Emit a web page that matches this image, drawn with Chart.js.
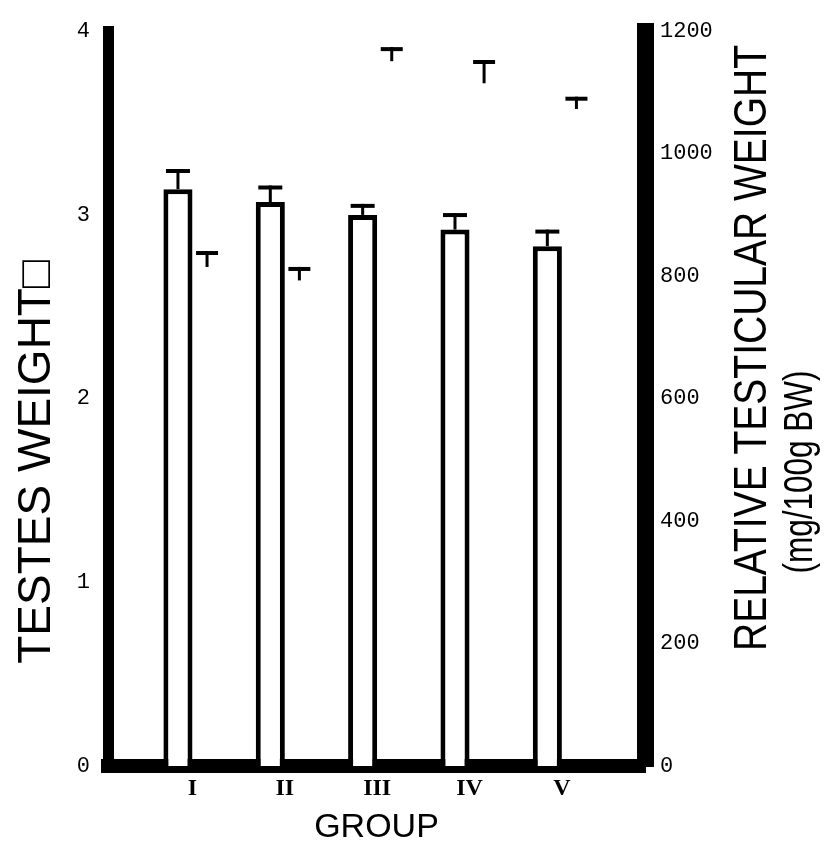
<!DOCTYPE html>
<html>
<head>
<meta charset="utf-8">
<title>Testes weight by group</title>
<script src="https://cdn.jsdelivr.net/npm/chart.js@4"></script>
<style>
    body { margin: 0; background: #fff; }
    #wrap { width: 835px; height: 853px; position: relative; }
</style>
</head>
<body>
<div id="wrap"><canvas id="testesChart"></canvas></div>
<script>
// Group labels and measured values
const groups = ['I', 'II', 'III', 'IV', 'V'];
const testesWeight = [3.14, 3.07, 3.00, 2.92, 2.83];   // g
const testesSE = [0.11, 0.09, 0.06, 0.09, 0.09];
const relativeWeight = [815, 793, 1151, 1115, 1073];   // mg/100g BW
const relativeSE = [26, 22, 23, 38, 20];

const leftTicks = [0, 1, 2, 3, 4];
const rightTicks = [0, 200, 400, 600, 800, 1000, 1200];

// T-shaped error bar: stem from base up to top, cap across the top
function drawT(ctx, x, base, top, capWidth) {
    ctx.lineWidth = 3;
    ctx.beginPath();
    ctx.moveTo(x, base);
    ctx.lineTo(x, top);
    ctx.stroke();
    ctx.lineWidth = 4;
    ctx.beginPath();
    ctx.moveTo(x - capWidth / 2, top + 2);
    ctx.lineTo(x + capWidth / 2, top + 2);
    ctx.stroke();
}

const errorBars = {
    id: 'errorBars',
    afterDatasetsDraw(chart) {
        const ctx = chart.ctx;
        const y = chart.scales.y;
        const y2 = chart.scales.y2;
        ctx.save();
        ctx.strokeStyle = '#000';
        chart.getDatasetMeta(0).data.forEach((bar, i) => {
            const top = y.getPixelForValue(testesWeight[i] + testesSE[i]);
            drawT(ctx, bar.x, bar.y, top, 24);
        });
        chart.getDatasetMeta(1).data.forEach((bar, i) => {
            const mean = y2.getPixelForValue(relativeWeight[i]);
            const top = y2.getPixelForValue(relativeWeight[i] + relativeSE[i]);
            drawT(ctx, bar.x, mean, top, 22);
        });
        ctx.restore();
    }
};

// Rotated axis titles (read bottom to top), squeezed to a set length
const axisTitles = {
    id: 'axisTitles',
    afterDraw(chart) {
        const ctx = chart.ctx;
        const rotated = (text, x, y, font, length) => {
            ctx.save();
            ctx.translate(x, y);
            ctx.rotate(-Math.PI / 2);
            ctx.font = font;
            if (length) ctx.scale(length / ctx.measureText(text).width, 1);
            ctx.fillText(text, 0, 0);
            ctx.restore();
        };
        ctx.save();
        ctx.fillStyle = '#000';
        ctx.textAlign = 'center';
        ctx.textBaseline = 'middle';
        rotated('TESTES WEIGHT\u25A1', 37, 462, '46px "Liberation Sans", "DejaVu Sans"');
        rotated('RELATIVE TESTICULAR WEIGHT', 753, 348, '46px "Liberation Sans", sans-serif', 606);
        rotated('(mg/100g BW)', 801, 472, '40px "Liberation Sans", sans-serif', 203);
        ctx.restore();
    }
};

const tickFont = { family: '"Liberation Mono", monospace', size: 22 };

new Chart(document.getElementById('testesChart'), {
    type: 'bar',
    data: {
        datasets: [{
            label: 'Testes weight',
            data: groups.map((g, i) => ({ x: i + 1, y: testesWeight[i] })),
            yAxisID: 'y',
            backgroundColor: '#fff',
            borderColor: '#000',
            borderWidth: 5,
            borderSkipped: 'start'
        }, {
            label: 'Relative testicular weight',
            data: groups.map((g, i) => ({ x: i + 1, y: relativeWeight[i] })),
            yAxisID: 'y2',
            backgroundColor: 'rgba(0,0,0,0)',
            borderWidth: 0
        }]
    },
    options: {
        responsive: true,
        maintainAspectRatio: false,
        animation: false,
        layout: { padding: { top: 28, left: 0, right: 0, bottom: 0 } },
        datasets: { bar: { categoryPercentage: 0.63, barPercentage: 1.0 } },
        plugins: {
            legend: { display: false },
            tooltip: { enabled: false }
        },
        scales: {
            x: {
                type: 'linear',
                min: 0.085,
                max: 5.9,
                offset: false,
                afterFit: s => { s.height = 87; },
                afterBuildTicks: s => { s.ticks = groups.map((g, i) => ({ value: i + 1 })); },
                grid: { display: false, drawTicks: false },
                border: { display: true, color: '#000', width: 14 },
                ticks: {
                    autoSkip: false,
                    maxRotation: 0,
                    padding: 8,
                    color: '#000',
                    font: { family: '"Liberation Serif", serif', size: 24, weight: 'bold' },
                    callback: v => groups[v - 1]
                },
                title: {
                    display: true,
                    text: 'GROUP',
                    color: '#000',
                    font: { family: '"Liberation Sans", sans-serif', size: 34 },
                    padding: { top: 0, bottom: 5 }
                }
            },
            y: {
                position: 'left',
                min: 0,
                max: 4,
                afterFit: s => { s.width = 108; },
                afterBuildTicks: s => { s.ticks = leftTicks.map(v => ({ value: v })); },
                grid: { display: false, drawTicks: false },
                border: { display: true, color: '#000', width: 11 },
                ticks: { padding: 18, color: '#000', font: tickFont, callback: v => String(v) }
            },
            y2: {
                position: 'right',
                min: 0,
                max: 1200,
                afterFit: s => { s.width = 190; },
                afterBuildTicks: s => { s.ticks = rightTicks.map(v => ({ value: v })); },
                grid: { display: false, drawTicks: false },
                border: { display: true, color: '#000', width: 17 },
                ticks: { padding: 15, color: '#000', font: tickFont, callback: v => String(v) }
            }
        }
    },
    plugins: [errorBars, axisTitles]
});
</script>
</body>
</html>
